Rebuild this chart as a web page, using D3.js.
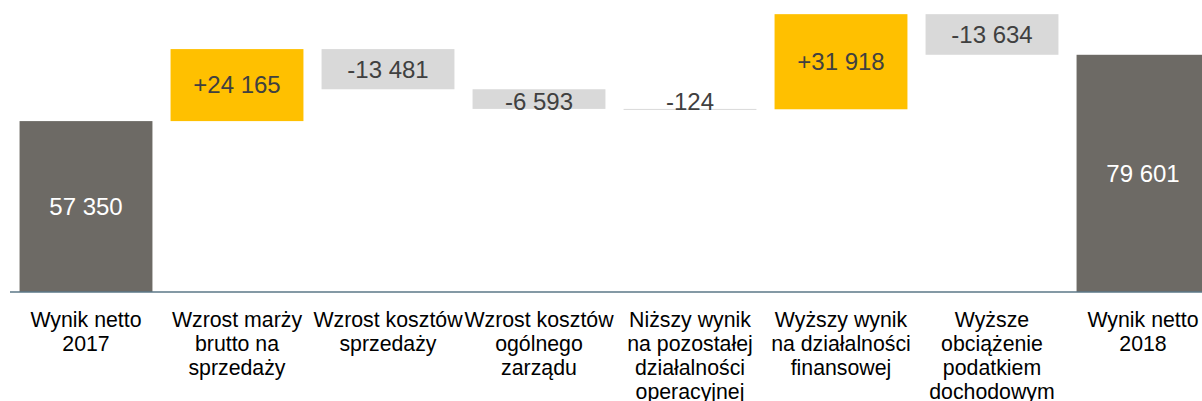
<!DOCTYPE html>
<html>
<head>
<meta charset="utf-8">
<script src="https://cdn.jsdelivr.net/npm/d3@7"></script>
<style>
  html, body { margin: 0; padding: 0; background: #fff; overflow: hidden; }
  svg { display: block; }
  text { font-family: "Liberation Sans", Arial, sans-serif; }
</style>
</head>
<body>
<svg id="chart" width="1202" height="401"></svg>
<script>
// ---- data ----
const categories = [
  "Wynik netto\n2017",
  "Wzrost marży\nbrutto na\nsprzedaży",
  "Wzrost kosztów\nsprzedaży",
  "Wzrost kosztów\nogólnego\nzarządu",
  "Niższy wynik\nna pozostałej\ndziałalności\noperacyjnej",
  "Wyższy wynik\nna działalności\nfinansowej",
  "Wyższe\nobciążenie\npodatkiem\ndochodowym",
  "Wynik netto\n2018"
];
const values = [57350, 24165, -13481, -6593, -124, 31918, -13634, 79601];
const kinds = ["total", "delta", "delta", "delta", "delta", "delta", "delta", "total"];

// ---- layout ----
const svg = d3.select("#chart");
const baseY = 292;
const pxPer = 0.00298;

const x = d3.scaleBand()
  .domain(categories)
  .range([10.5, 1218.5])
  .paddingInner(0.12)
  .paddingOuter(0.06);

const y = d3.scaleLinear()
  .domain([0, 100000])
  .range([baseY, baseY - 100000 * pxPer]);

const loc = d3.formatLocale({ decimal: ",", thousands: "\u00a0", grouping: [3], currency: ["", ""] });
const fmt = loc.format(",d");

// compute waterfall
let run = 0;
const rows = categories.map((c, i) => {
  const v = values[i];
  let lo, hi;
  if (kinds[i] === "total") { lo = 0; hi = v; run = v; }
  else { const start = run; run = start + v; lo = Math.min(start, run); hi = Math.max(start, run); }
  return { c, v, kind: kinds[i], lo, hi };
});

function fill(d) {
  if (d.kind === "total") return "#6d6a65";
  return d.v >= 0 ? "#ffc000" : "#d9d9d9";
}
function textFill(d) {
  return d.kind === "total" ? "#ffffff" : "#404040";
}
function label(d) {
  if (d.kind === "total") return fmt(d.v);
  return (d.v > 0 ? "+" : "-") + fmt(Math.abs(d.v));
}

const g = svg.append("g");

g.selectAll("rect.bar")
  .data(rows)
  .join("rect")
  .attr("class", "bar")
  .attr("x", d => x(d.c))
  .attr("width", x.bandwidth())
  .attr("y", d => y(d.hi))
  .attr("height", d => Math.max(1, y(d.lo) - y(d.hi)))
  .attr("fill", fill);

const vfs = 24;
g.selectAll("text.val")
  .data(rows)
  .join("text")
  .attr("class", "val")
  .attr("x", d => x(d.c) + x.bandwidth() / 2)
  .attr("y", d => {
    const h = y(d.lo) - y(d.hi);
    if (h < 24) return y(d.lo) + 1;
    return (y(d.lo) + y(d.hi)) / 2 + vfs * 0.35;
  })
  .attr("text-anchor", "middle")
  .attr("font-size", vfs)
  .attr("fill", textFill)
  .text(label);

// baseline axis
const xAxis = d3.axisBottom(x).tickSize(0).tickFormat("");
const axisG = svg.append("g").attr("transform", `translate(0,${baseY})`).call(xAxis);
axisG.select(".domain").attr("stroke", "#5b7787").attr("stroke-width", 1.5).attr("d", "M10,0H1202");

// category labels
const catG = svg.append("g");
rows.forEach(d => {
  const t = catG.append("text")
    .attr("x", x(d.c) + x.bandwidth() / 2)
    .attr("y", 327)
    .attr("text-anchor", "middle")
    .attr("font-size", 21.3)
    .attr("fill", "#000");
  d.c.split("\n").forEach((line, k) => {
    t.append("tspan")
      .attr("x", x(d.c) + x.bandwidth() / 2)
      .attr("dy", k === 0 ? 0 : 24)
      .text(line);
  });
});
</script>
</body>
</html>
